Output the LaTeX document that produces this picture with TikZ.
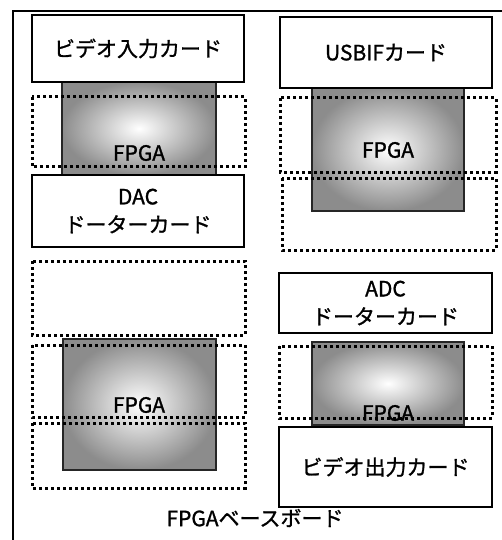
\documentclass[tikz,border=0pt]{standalone}
\usepackage{fontspec}
\setmainfont{Noto Sans CJK JP}[FakeBold=1.2]
\usetikzlibrary{positioning,shadings}

\begin{document}
\begin{tikzpicture}[x=1pt, y=-1pt,
  every node/.style = {font=\fontsize{21}{28}\selectfont, align=center, inner sep=0pt},
  card/.style = {draw, line width=2.2pt, fill=white},
  fpga/.style = {draw=black!85, line width=1.4pt, inner color=white, outer color=black!45},
  slot/.style = {draw, line width=3pt, dash pattern=on 3pt off 3pt}]
  \useasboundingbox (0,0) rectangle (502,540);
  \clip (0,0) rectangle (502,540);

  % base board
  \draw[line width=2.6pt] (13,11) rectangle (520,560);
  \node (base) at (255,518) {FPGAベースボード};

  % FPGA chips
  \shade[fpga] (62,82) rectangle (216,175);
  \shade[fpga] (312,88) rectangle (464,211);
  \shade[fpga] (63,339) rectangle (216,470);
  \shade[fpga] (312,342) rectangle (464,425);
  \node (f1) at (139,153) {FPGA};
  \node (f2) at (388,150) {FPGA};
  \node (f3) at (139,405) {FPGA};
  \node (f4) at (388,413) {FPGA};

  % empty slots
  \draw[slot] (32,97) rectangle (245,167);
  \draw[slot] (32,261) rectangle (245,335);
  \draw[slot] (32,345) rectangle (245,417);
  \draw[slot] (32,423) rectangle (245,488);
  \draw[slot] (280,98) rectangle (496,172);
  \draw[slot] (282,178) rectangle (496,250);
  \draw[slot] (279,346) rectangle (492,418);

  % cards
  \node[card, minimum width=212pt, minimum height=67pt] (vin) at (138,48.5) {ビデオ入力カード};
  \node[card, minimum width=212pt, minimum height=72pt] (dac) at (138,211) {DAC\\ドーターカード};
  \node[card, minimum width=212pt, minimum height=71pt] (usb) at (386,52.5) {USBIFカード};
  \node[card, minimum width=213pt, minimum height=60pt] (adc) at (385.5,303) {ADC\\ドーターカード};
  \node[card, minimum width=213pt, minimum height=80pt] (vout) at (385.5,467) {ビデオ出力カード};
\end{tikzpicture}
\end{document}
